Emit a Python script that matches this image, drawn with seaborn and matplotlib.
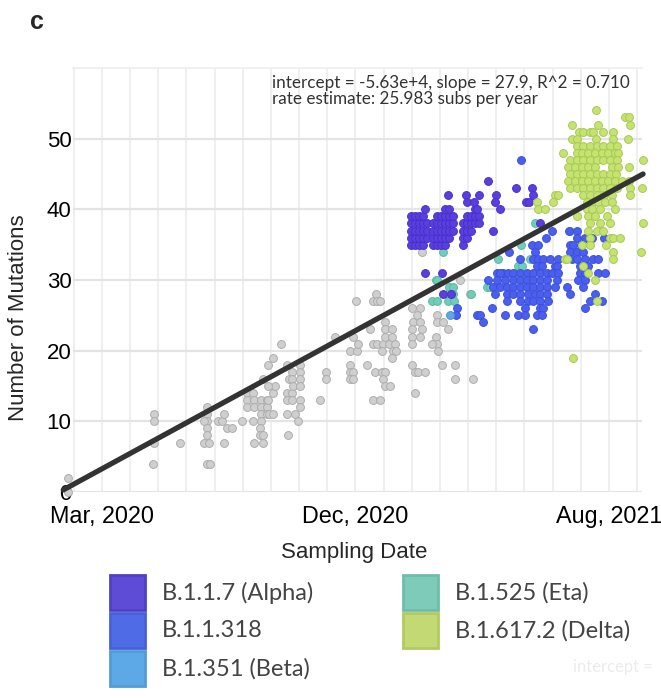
import numpy as np
import pandas as pd
import matplotlib
matplotlib.use("Agg")
import matplotlib.pyplot as plt
from matplotlib.patches import Rectangle
from matplotlib.ticker import MultipleLocator, FixedLocator
import seaborn as sns

# sampling date (decimal year), number of mutations
gray = [
    (2020.063, 0), (2020.063, 2),
    (2020.308, 11), (2020.308, 10), (2020.308, 7), (2020.305, 4), (2020.382, 7),
    (2020.458, 12), (2020.458, 11), (2020.458, 10), (2020.450, 10), (2020.458, 9),
    (2020.458, 8), (2020.450, 7), (2020.464, 7), (2020.458, 4), (2020.467, 4),
    (2020.490, 10), (2020.501, 10), (2020.507, 11), (2020.515, 9), (2020.529, 9),
    (2020.507, 7), (2020.558, 10),
    (2020.572, 14), (2020.572, 13), (2020.572, 12), (2020.589, 14), (2020.592, 13),
    (2020.592, 12), (2020.589, 10), (2020.592, 7),
    (2020.612, 13), (2020.612, 12), (2020.612, 11), (2020.612, 10), (2020.609, 9),
    (2020.609, 8), (2020.617, 8), (2020.617, 7), (2020.617, 16),
    (2020.629, 13), (2020.629, 12), (2020.629, 11), (2020.634, 11), (2020.632, 13),
    (2020.646, 11), (2020.632, 18), (2020.646, 19), (2020.646, 14), (2020.651, 15),
    (2020.632, 15), (2020.669, 21),
    (2020.688, 8), (2020.686, 18), (2020.691, 16), (2020.686, 14), (2020.686, 13),
    (2020.686, 11), (2020.700, 17), (2020.700, 16), (2020.700, 14), (2020.700, 13),
    (2020.703, 15), (2020.708, 11), (2020.717, 10), (2020.722, 18), (2020.722, 17),
    (2020.722, 16), (2020.722, 15), (2020.722, 13), (2020.722, 12),
    (2020.779, 13), (2020.796, 17), (2020.796, 16), (2020.822, 22),
    (2020.865, 20), (2020.884, 20), (2020.887, 21), (2020.873, 22), (2020.921, 23),
    (2020.865, 18), (2020.865, 17), (2020.873, 17), (2020.865, 16), (2020.873, 16),
    (2020.913, 18), (2020.882, 27), (2020.930, 27), (2020.938, 28), (2020.941, 27),
    (2020.950, 27), (2020.930, 21), (2020.941, 21), (2020.958, 21), (2020.975, 21),
    (2020.992, 21), (2020.964, 24), (2020.964, 23), (2020.984, 23), (2020.964, 22),
    (2020.984, 22), (2020.955, 20), (2020.987, 20), (2020.995, 20), (2020.984, 19),
    (2020.936, 17), (2020.955, 17), (2020.964, 17), (2020.958, 16), (2020.964, 15),
    (2020.978, 15), (2020.930, 13), (2020.950, 13),
    (2021.041, 26), (2021.063, 26), (2021.055, 25), (2021.043, 24), (2021.063, 24),
    (2021.041, 23), (2021.069, 23), (2021.041, 22), (2021.063, 22), (2021.041, 21),
    (2021.111, 25), (2021.111, 24), (2021.128, 24), (2021.142, 23), (2021.109, 22),
    (2021.111, 21), (2021.097, 21), (2021.114, 20), (2021.163, 18), (2021.125, 18),
    (2021.163, 16), (2021.214, 16), (2021.041, 18), (2021.049, 17), (2021.058, 17),
    (2021.078, 17), (2021.049, 14),
    (2021.069, 34), (2021.177, 30), (2021.206, 28),
]

alpha_cols = [2021.038, 2021.049, 2021.061, 2021.072, 2021.083,
              2021.100, 2021.111, 2021.123, 2021.134, 2021.145, 2021.157,
              2021.186, 2021.197, 2021.209, 2021.220, 2021.231]
alpha_col_lo = [35, 35, 35, 35, 36, 35, 35, 35, 35, 36, 37, 35, 36, 37, 38, 38]
alpha_col_hi = [39, 39, 39, 39, 38, 38, 39, 39, 40, 40, 39, 38, 39, 39, 40, 39]
alpha_extra = [
    (2021.078, 40), (2021.226, 40), (2021.291, 40), (2021.142, 42), (2021.194, 42),
    (2021.231, 42), (2021.280, 42), (2021.197, 41), (2021.217, 41), (2021.277, 41),
    (2021.365, 41), (2021.373, 41), (2021.336, 43), (2021.257, 44), (2021.271, 37),
    (2021.078, 31), (2021.125, 31), (2021.128, 28), (2021.151, 28), (2021.382, 43),
    (2021.384, 42), (2021.404, 38),
]

b1318 = [
    (2021.438, 37), (2021.487, 37), (2021.510, 37),
    (2021.421, 36), (2021.510, 36), (2021.532, 36), (2021.552, 36), (2021.586, 36),
    (2021.382, 35), (2021.399, 35), (2021.490, 35), (2021.498, 35), (2021.521, 35),
    (2021.316, 34), (2021.390, 34), (2021.490, 34), (2021.510, 34), (2021.527, 34),
    (2021.348, 33), (2021.384, 33), (2021.399, 33), (2021.413, 33), (2021.433, 33),
    (2021.455, 33), (2021.495, 33), (2021.510, 33), (2021.532, 33), (2021.555, 33),
    (2021.569, 33),
    (2021.396, 32), (2021.410, 32), (2021.447, 32), (2021.453, 32), (2021.518, 32),
    (2021.532, 32), (2021.541, 32),
    (2021.283, 31), (2021.299, 31), (2021.314, 31), (2021.328, 31), (2021.348, 31),
    (2021.367, 31), (2021.384, 31), (2021.404, 31), (2021.424, 31), (2021.438, 31),
    (2021.455, 31), (2021.518, 31), (2021.532, 31), (2021.569, 31), (2021.589, 31),
    (2021.291, 31),
    (2021.257, 30), (2021.283, 30), (2021.305, 30), (2021.328, 30), (2021.348, 30),
    (2021.367, 30), (2021.384, 30), (2021.404, 30), (2021.424, 30), (2021.453, 30),
    (2021.512, 30), (2021.532, 30),
    (2021.271, 29), (2021.291, 29), (2021.311, 29), (2021.328, 29), (2021.348, 29),
    (2021.367, 29), (2021.384, 29), (2021.404, 29), (2021.424, 29), (2021.447, 29),
    (2021.481, 29), (2021.527, 29),
    (2021.277, 28), (2021.311, 28), (2021.328, 28), (2021.348, 28), (2021.370, 28),
    (2021.390, 28), (2021.404, 28), (2021.424, 28), (2021.490, 28), (2021.561, 28),
    (2021.311, 27), (2021.348, 27), (2021.370, 27), (2021.384, 27), (2021.404, 27),
    (2021.427, 27), (2021.546, 27), (2021.580, 27),
    (2021.168, 26), (2021.268, 26), (2021.362, 26), (2021.404, 26), (2021.413, 26),
    (2021.532, 26),
    (2021.166, 25), (2021.226, 25), (2021.234, 25), (2021.305, 25), (2021.342, 25),
    (2021.362, 25), (2021.396, 25), (2021.410, 25),
    (2021.243, 24), (2021.384, 23), (2021.350, 47),
]

beta = [(2021.149, 25)]

eta = [
    (2021.128, 34), (2021.109, 30), (2021.111, 30), (2021.145, 29), (2021.157, 29),
    (2021.142, 28), (2021.157, 28), (2021.097, 27), (2021.111, 27), (2021.142, 27),
    (2021.160, 27), (2021.209, 28), (2021.285, 33), (2021.254, 29), (2021.263, 29),
    (2021.350, 35), (2021.390, 38), (2021.342, 32), (2021.353, 32), (2021.334, 31),
    (2021.362, 30), (2021.376, 33), (2021.490, 37), (2021.532, 36),
]

delta = [
    (2021.563, 54), (2021.646, 53), (2021.657, 53),
    (2021.495, 52), (2021.569, 52), (2021.660, 52),
    (2021.515, 51), (2021.527, 51), (2021.546, 51), (2021.555, 51), (2021.583, 51), (2021.612, 51),
    (2021.495, 50), (2021.510, 50), (2021.563, 50), (2021.612, 50), (2021.654, 50),
    (2021.510, 49), (2021.527, 49), (2021.546, 49), (2021.566, 49), (2021.583, 49),
    (2021.603, 49), (2021.623, 49),
    (2021.470, 48), (2021.510, 48), (2021.524, 48), (2021.541, 48), (2021.561, 48),
    (2021.580, 48), (2021.597, 48), (2021.617, 48), (2021.626, 48),
    (2021.490, 47), (2021.510, 47), (2021.527, 47), (2021.546, 47), (2021.566, 47),
    (2021.583, 47), (2021.603, 47), (2021.623, 47), (2021.697, 47),
    (2021.484, 46), (2021.504, 46), (2021.524, 46), (2021.541, 46), (2021.561, 46),
    (2021.609, 46), (2021.626, 46), (2021.657, 46),
    (2021.490, 45), (2021.510, 45), (2021.527, 45), (2021.546, 45), (2021.566, 45),
    (2021.583, 45), (2021.603, 45), (2021.620, 45),
    (2021.484, 44), (2021.504, 44), (2021.524, 44), (2021.541, 44), (2021.561, 44),
    (2021.580, 44), (2021.597, 44), (2021.617, 44), (2021.637, 44), (2021.657, 44),
    (2021.490, 43), (2021.510, 43), (2021.527, 43), (2021.546, 43), (2021.566, 43),
    (2021.583, 43), (2021.603, 43), (2021.623, 43), (2021.660, 43), (2021.694, 43),
    (2021.447, 42), (2021.455, 42), (2021.527, 42), (2021.546, 42), (2021.566, 42),
    (2021.586, 42), (2021.609, 42), (2021.660, 42),
    (2021.396, 41), (2021.441, 41), (2021.538, 41), (2021.555, 41), (2021.569, 41),
    (2021.589, 41), (2021.609, 41),
    (2021.399, 40), (2021.419, 40), (2021.538, 40), (2021.552, 40), (2021.575, 40),
    (2021.617, 40),
    (2021.510, 39), (2021.541, 39), (2021.561, 39), (2021.594, 39),
    (2021.546, 38), (2021.575, 38), (2021.603, 38), (2021.697, 38),
    (2021.541, 37), (2021.566, 37), (2021.583, 37),
    (2021.546, 36), (2021.603, 36), (2021.612, 36), (2021.632, 36),
    (2021.524, 35), (2021.546, 35), (2021.592, 35),
    (2021.612, 34), (2021.691, 34), (2021.475, 33), (2021.481, 33), (2021.612, 33),
    (2021.527, 32), (2021.541, 31), (2021.561, 30), (2021.566, 27), (2021.498, 19),
]

# regression line end points
reg_x = [2020.050, 2021.697]
reg_y = [0.3, 45.0]

tick_pos = [2020.16, 2020.88, 2021.60]
tick_labels = ["Mar, 2020", "Dec, 2020", "Aug, 2021"]

clade_names = ["B.1.1.7 (Alpha)", "B.1.1.318", "B.1.351 (Beta)", "B.1.525 (Eta)", "B.1.617.2 (Delta)"]
clade_fill = ["#5e4bd6", "#4f6be6", "#5da9e6", "#7ecbba", "#c3da74"]
clade_edge = ["#5040c6", "#4560d8", "#529cd8", "#70bcab", "#b2ca62"]

# expand alpha columns
alpha = [(x, y) for x, lo, hi in zip(alpha_cols, alpha_col_lo, alpha_col_hi)
         for y in range(lo, hi + 1)] + alpha_extra

sns.set_theme(style="white")
plt.rcParams["font.family"] = ["Liberation Sans", "DejaVu Sans"]

W, H = 661, 698
fig = plt.figure(figsize=(6.61, 6.98), dpi=100)
ax = fig.add_axes([73 / W, 1 - 492 / H, 569 / W, 424 / H])

ax.set_xlim(2020.0776, 2021.694)
ax.set_ylim(0, 60)

# grid
ax.xaxis.set_minor_locator(MultipleLocator(0.08))
ax.xaxis.set_major_locator(FixedLocator(tick_pos))
ax.set_xticklabels(tick_labels)
ax.set_yticks([0, 10, 20, 30, 40, 50])
ax.grid(which="both", axis="x", color="#ececec", lw=1.2)
ax.grid(which="major", axis="y", color="#e4e4e4", lw=1.6)
ax.set_axisbelow(True)
for s in ["left", "right", "bottom"]:
    ax.spines[s].set_visible(False)
ax.spines["top"].set_color("#eeeeee")
ax.tick_params(axis="both", length=0, labelsize=16, colors="black")
ax.tick_params(axis="y", pad=1)
ax.tick_params(axis="x", pad=9, labelsize=16.8)

pts = [gray, alpha, b1318, beta, eta, delta]
fills = ["#cfcfcf", "#5a3fe0", "#4a5ff0", "#5aa8ea", "#70cdb8", "#c5e46e"]
edges = ["#adadad", "#4a30c8", "#3b4fd8", "#4a92d4", "#5cb8a2", "#a8c858"]
order = [0, 4, 2, 3, 1, 5]
for i in order:
    d = pd.DataFrame(pts[i], columns=["date", "muts"])
    sns.scatterplot(data=d, x="date", y="muts", ax=ax, color=fills[i],
                    edgecolor=edges[i], linewidth=0.7, s=32, clip_on=False,
                    zorder=3)

sns.lineplot(x=reg_x, y=reg_y, ax=ax, color="#333333", lw=3.8, clip_on=False,
             zorder=5)

ax.set_xlabel("Sampling Date", fontsize=16)
ax.set_ylabel("Number of Mutations", fontsize=16)
ax.xaxis.set_label_coords(0.494, -0.117)
ax.yaxis.set_label_coords(-0.078, 0.41)

fig.text(30 / W, 1 - 22 / H, "c", fontsize=18, fontweight="bold", va="center")

fig.text(272 / W, 1 - 91 / H,
         "intercept = -5.63e+4, slope = 27.9, R^2 = 0.710\nrate estimate: 25.983 subs per year",
         fontsize=12.3, family="Lato", color="#333333", va="center", ha="left",
         linespacing=0.95)

# legend: squares + labels, two columns
leg_x = [110, 110, 110, 403, 403]
leg_y = [575, 613, 651, 575, 613]
for name, f, e, lx, ly in zip(clade_names, clade_fill, clade_edge, leg_x, leg_y):
    fig.add_artist(Rectangle((lx / W, 1 - (ly + 35) / H), 35 / W, 35 / H,
                             transform=fig.transFigure, facecolor=f,
                             edgecolor=e, lw=2))
    fig.text((lx + 52) / W, 1 - (ly + 17.5) / H, name, fontsize=17,
             family="Lato", color="#444444", va="center", ha="left")

fig.text(573 / W, 1 - 667 / H, "intercept =", fontsize=12, family="Lato",
         color="#ececec", va="center")

fig.savefig("out.png", dpi=100)
